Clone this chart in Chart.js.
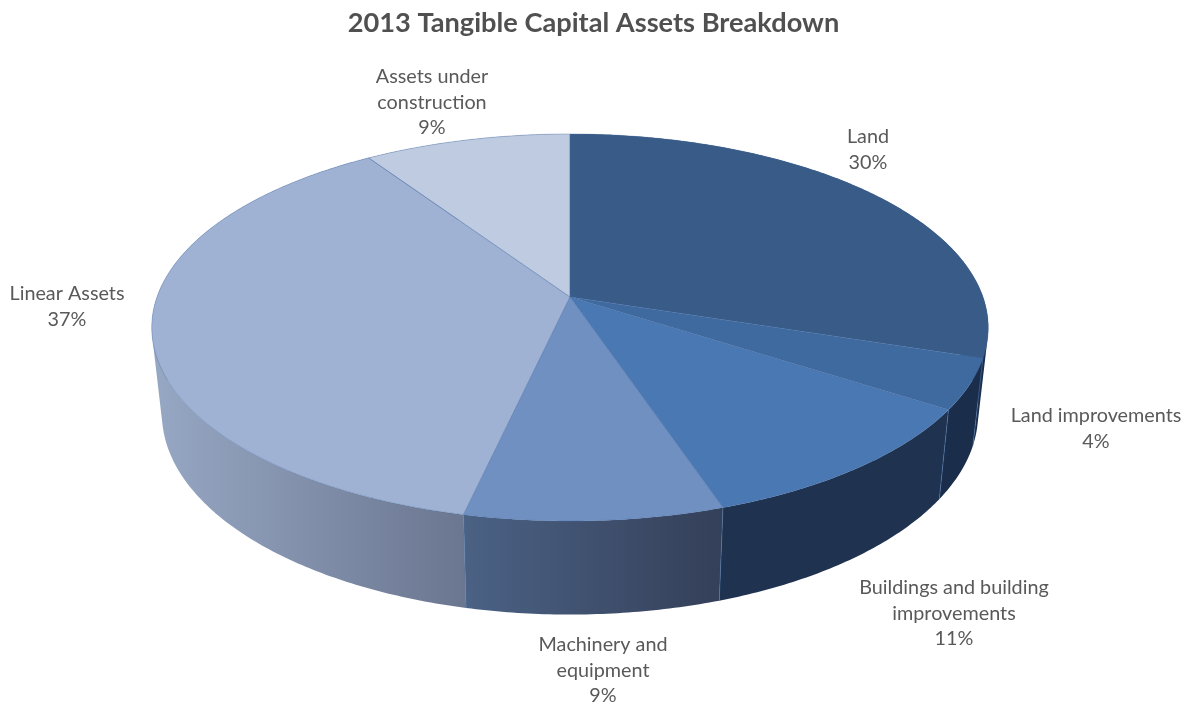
<!DOCTYPE html>
<html>
<head>
<meta charset="utf-8">
<style>html,body{margin:0;padding:0;background:#fff}canvas{display:block}</style>
<script src="https://cdn.jsdelivr.net/npm/chart.js@4"></script>
</head>
<body>
<canvas id="c" width="1187" height="705"></canvas>
<script>
const chartTitle = '2013 Tangible Capital Assets Breakdown';
const categories = ['Land', 'Land improvements', 'Buildings and building improvements', 'Machinery and equipment', 'Linear Assets', 'Assets under construction'];
const categoryLines = [['Land'], ['Land improvements'], ['Buildings and building', 'improvements'], ['Machinery and', 'equipment'], ['Linear Assets'], ['Assets under', 'construction']];
const shares = [30, 4.2, 10.7, 8.6, 37.2, 9.3];
const topColors = ['#385C87', '#3F6A9F', '#4A78B2', '#7090C2', '#9FB2D3', '#BFCBE0'];
const wallFrom = ['#1A2D4B', '#1A2D4B', '#1F3350', '#4B6285', '#97A8C4', '#8090AA'];
const wallTo = ['#1A2D4B', '#1A2D4B', '#1F3350', '#343F58', '#6B7690', '#8090AA'];
const labelCenters = [[868, 137], [1096, 416], [954, 588], [603, 645], [67, 294], [432, 77]];

// Perspective projection of the library's unit circle on to the tilted disc
const C = -0.1576;
const topRim = { x0: 570, d: 413, b: 297, a: 141.9 };
const lowRim = { x0: 570, d: 403, b: 382, a: 135.7 };
function project(rim, r, ang) {
  const u = r * Math.cos(ang), v = r * Math.sin(ang), w = 1 + C * v;
  return [rim.x0 + rim.d * u / w, (rim.b + rim.a * v) / w];
}
function traceFace(ctx, a0, a1) {
  const n = Math.max(8, Math.ceil((a1 - a0) * 90));
  ctx.beginPath();
  const c = project(topRim, 0, 0);
  ctx.moveTo(c[0], c[1]);
  for (let i = 0; i <= n; i++) {
    const p = project(topRim, 1, a0 + (a1 - a0) * i / n);
    ctx.lineTo(p[0], p[1]);
  }
  ctx.closePath();
}
const pie3d = {
  id: 'pie3d',
  beforeDatasetsDraw(chart) {
    const ctx = chart.ctx, arcs = chart.getDatasetMeta(0).data;
    ctx.save();
    ctx.lineJoin = 'round';
    arcs.forEach((arc, i) => {
      const { startAngle: a0, endAngle: a1 } = arc;
      const n = Math.max(8, Math.ceil((a1 - a0) * 90));
      let minX = 1e9, maxX = -1e9;
      for (let k = 0; k <= n; k++) {
        const an = a0 + (a1 - a0) * k / n;
        if (Math.sin(an) < 0.1) continue;
        const p = project(topRim, 1, an);
        minX = Math.min(minX, p[0]); maxX = Math.max(maxX, p[0]);
      }
      if (maxX < minX) { minX = 0; maxX = 1; }
      const g = ctx.createLinearGradient(minX, 0, maxX, 0);
      g.addColorStop(0, wallFrom[i]); g.addColorStop(1, wallTo[i]);
      ctx.fillStyle = g;
      // one path of equally wound quads, so no seams appear between them
      ctx.beginPath();
      for (let k = 0; k < n; k++) {
        const q0 = a0 + (a1 - a0) * k / n, q1 = a0 + (a1 - a0) * (k + 1) / n;
        let pts = [project(topRim, 1, q0), project(topRim, 1, q1), project(lowRim, 1, q1), project(lowRim, 1, q0)];
        let area = 0;
        pts.forEach((p, j) => { const o = pts[(j + 1) % 4]; area += p[0] * o[1] - o[0] * p[1]; });
        if (area < 0) pts = pts.reverse();
        ctx.moveTo(pts[0][0], pts[0][1]);
        for (let j = 1; j < 4; j++) ctx.lineTo(pts[j][0], pts[j][1]);
        ctx.closePath();
      }
      ctx.fill('nonzero');
    });
    // seams of the wall
    ctx.strokeStyle = 'rgba(79,124,180,0.55)';
    ctx.lineWidth = 1;
    arcs.forEach(arc => {
      const an = arc.endAngle;
      if (Math.sin(an) > 0) {
        const t = project(topRim, 1, an), l = project(lowRim, 1, an);
        ctx.beginPath(); ctx.moveTo(t[0], t[1]); ctx.lineTo(l[0], l[1]); ctx.stroke();
      }
    });
    arcs.forEach((arc, i) => {
      traceFace(ctx, arc.startAngle, arc.endAngle);
      ctx.fillStyle = topColors[i];
      ctx.fill();
    });
    ctx.strokeStyle = 'rgba(70,110,165,0.45)';
    ctx.lineWidth = 0.8;
    arcs.forEach(arc => { traceFace(ctx, arc.startAngle, arc.endAngle); ctx.stroke(); });
    ctx.restore();
    return false;
  },
  afterDraw(chart) {
    const ctx = chart.ctx, total = shares.reduce((s, v) => s + v, 0);
    ctx.save();
    ctx.font = '19.8px Lato, Carlito, sans-serif';
    ctx.fillStyle = '#595959';
    ctx.textAlign = 'center';
    ctx.textBaseline = 'middle';
    categoryLines.forEach((lines, i) => {
      const [x, y] = labelCenters[i];
      const all = lines.concat(Math.round(shares[i] / total * 100) + '%');
      all.forEach((t, j) => ctx.fillText(t, x, y + j * 25.3));
    });
    ctx.restore();
  }
};
new Chart(document.getElementById('c'), {
  type: 'pie',
  data: { labels: categories, datasets: [{ data: shares, backgroundColor: topColors, borderWidth: 0 }] },
  options: {
    responsive: false,
    animation: false,
    rotation: 0,
    layout: { padding: 0 },
    plugins: {
      legend: { display: false },
      tooltip: { enabled: false },
      title: {
        display: true,
        text: chartTitle,
        color: '#505050',
        font: { family: 'Lato, Carlito, sans-serif', size: 27.2, weight: 'bold' },
        padding: { top: 7, bottom: 10 }
      }
    }
  },
  plugins: [pie3d]
});
</script>
</body>
</html>
